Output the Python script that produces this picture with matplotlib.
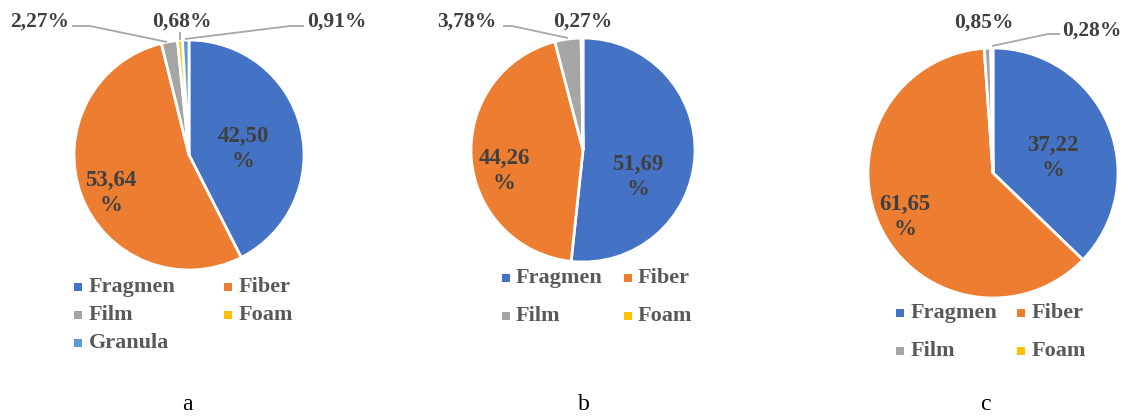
import matplotlib
matplotlib.use("Agg")
import matplotlib.pyplot as plt
from matplotlib.patches import Rectangle

W, H = 1128, 416

categories_a = ["Fragmen", "Fiber", "Film", "Foam", "Granula"]
values_a = [42.50, 53.64, 2.27, 0.68, 0.91]
categories_b = ["Fragmen", "Fiber", "Film", "Foam"]
values_b = [51.69, 44.26, 3.78, 0.27]
categories_c = ["Fragmen", "Fiber", "Film", "Foam"]
values_c = [37.22, 61.65, 0.85, 0.28]
captions = ["a", "b", "c"]

colors = {"Fragmen": "#4472C4", "Fiber": "#ED7D31", "Film": "#A5A5A5",
          "Foam": "#FFC000", "Granula": "#5B9BD5"}
LABEL_COLOR = "#404040"
LEGEND_COLOR = "#595959"
LEADER_COLOR = "#A6A6A6"
SERIF = ["Liberation Serif", "DejaVu Serif"]

fig = plt.figure(figsize=(W / 100, H / 100), dpi=100)
ax = fig.add_axes([0, 0, 1, 1])
ax.set_xlim(0, W)
ax.set_ylim(0, H)
ax.set_aspect("equal")
ax.axis("off")


def Y(y):
    # layout below is given in top-down pixel rows
    return H - y


def fmt(v):
    return f"{v:.2f}".replace(".", ",")


# layout of each panel: pie centre/radius, label spots, leader lines, legend grid
panels = [
    dict(cats=categories_a, vals=values_a, center=(189, 155), r=115,
         inner=[(243, 149), (111, 193)],
         outer=[(40, 22), (182, 22), (337, 22)],
         leaders=[[(72, 26), (90, 26), (167, 42)],
                  [(180, 32), (180, 40)],
                  [(304, 26), (290, 26), (185, 39)]],
         legend_cols=[(78, 89), (228, 239)], legend_rows=[287, 315, 343],
         caption=(187, 404)),
    dict(cats=categories_b, vals=values_b, center=(583, 150), r=112,
         inner=[(638, 177), (504, 171)],
         outer=[(467, 22), (583, 22)],
         leaders=[[(503, 26), (512, 26), (568, 38)],
                  []],
         legend_cols=[(506, 516), (628, 638)], legend_rows=[278, 316],
         caption=(584, 404)),
    dict(cats=categories_c, vals=values_c, center=(993, 173), r=125,
         inner=[(1053, 158), (905, 217)],
         outer=[(984, 23), (1092, 31)],
         leaders=[[],
                  [(1060, 34), (1048, 34), (992, 46)]],
         legend_cols=[(900, 911), (1021, 1032)], legend_rows=[313, 351],
         caption=(985, 405)),
]

for k, p in enumerate(panels):
    cx, cy = p["center"]
    ax.pie(p["vals"], colors=[colors[c] for c in p["cats"]], startangle=90,
           counterclock=False, radius=p["r"], center=(cx, Y(cy)),
           wedgeprops=dict(edgecolor="white", linewidth=2), frame=True)

    # two large slices carry their value inside
    for v, (tx, ty) in zip(p["vals"][:2], p["inner"]):
        ax.text(tx, Y(ty), f"{fmt(v)}\n%", ha="center", va="center",
                fontsize=16.5, fontweight="bold", family=SERIF,
                color=LABEL_COLOR, linespacing=1.25)

    # small slices are labelled above the pie
    for v, (tx, ty), pts in zip(p["vals"][2:], p["outer"], p["leaders"]):
        ax.text(tx, Y(ty), f"{fmt(v)}%", ha="center", va="center",
                fontsize=15.5, fontweight="bold", family=SERIF,
                color=LABEL_COLOR)
        if pts:
            ax.plot([q[0] for q in pts], [Y(q[1]) for q in pts],
                    color=LEADER_COLOR, lw=1.3, solid_capstyle="butt")

    # legend, filled row by row in two columns
    for i, cat in enumerate(p["cats"]):
        sx, tx = p["legend_cols"][i % 2]
        ry = p["legend_rows"][i // 2]
        ax.add_patch(Rectangle((sx - 4, Y(ry) - 4), 8, 8,
                               facecolor=colors[cat], edgecolor="none"))
        ax.text(tx, Y(ry), cat, ha="left", va="center", fontsize=16,
                fontweight="bold", family=SERIF, color=LEGEND_COLOR)

    ax.text(p["caption"][0], Y(p["caption"][1]), captions[k],
            ha="center", va="center", fontsize=17, family=SERIF, color="black")

ax.set_xlim(0, W)
ax.set_ylim(0, H)
ax.axis("off")
fig.savefig("out.png", dpi=100, facecolor="white")
